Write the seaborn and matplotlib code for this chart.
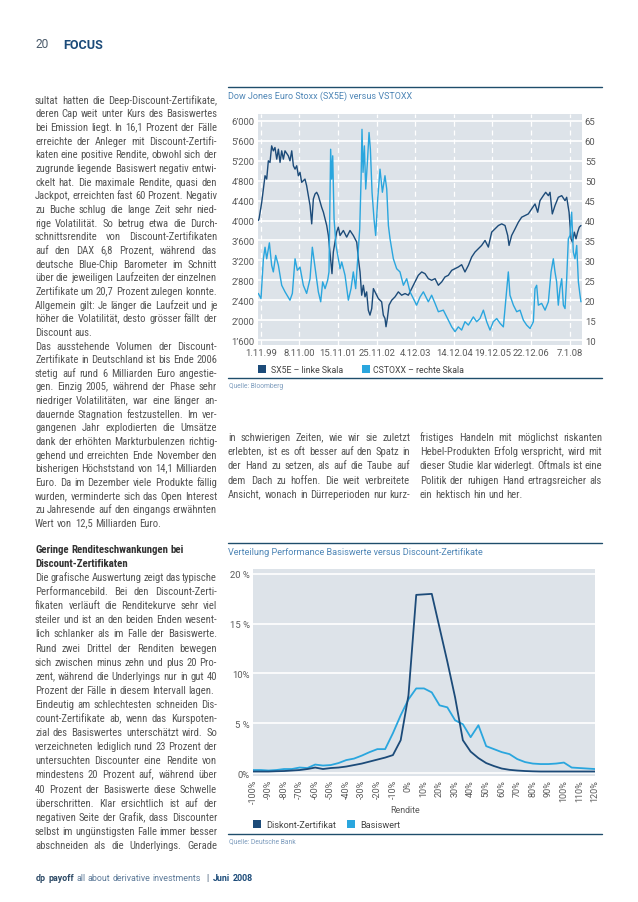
import matplotlib
matplotlib.use("Agg")
import math
import numpy as np
import pandas as pd
import matplotlib.pyplot as plt
import seaborn as sns
from matplotlib import font_manager as fm
from matplotlib.font_manager import FontProperties
from matplotlib.patches import Rectangle
from matplotlib.lines import Line2D

try:
    from matplotlib.backends.backend_agg import get_hinting_flag
except Exception:
    get_hinting_flag = None

# ---------------- data: chart 1 (SX5E vs VSTOXX) ----------------
sx5e_dates = [
    "1999-10-09", "1999-10-16", "1999-11-11", "1999-11-27", "1999-12-13", "1999-12-29",
    "2000-01-14", "2000-01-30", "2000-02-15", "2000-03-02", "2000-03-18", "2000-04-04",
    "2000-04-20", "2000-05-06", "2000-05-22", "2000-06-07", "2000-06-23", "2000-07-25",
    "2000-08-10", "2000-08-27", "2000-09-12", "2000-09-28", "2000-10-14", "2000-10-30",
    "2000-11-15", "2000-12-01", "2001-01-02", "2001-01-18", "2001-02-04", "2001-02-20",
    "2001-03-08", "2001-03-24", "2001-04-09", "2001-04-25", "2001-05-11", "2001-06-12",
    "2001-06-29", "2001-07-15", "2001-07-31", "2001-08-16", "2001-09-20", "2001-10-03",
    "2001-11-04", "2001-11-20", "2001-12-07", "2002-01-08", "2002-02-09", "2002-03-13",
    "2002-04-14", "2002-05-17", "2002-06-02", "2002-06-18", "2002-07-04", "2002-07-20",
    "2002-08-05", "2002-08-21", "2002-09-06", "2002-09-22", "2002-10-09", "2002-10-25",
    "2002-11-10", "2002-12-12", "2003-01-13", "2003-01-29", "2003-02-14", "2003-02-24",
    "2003-03-09", "2003-03-25", "2003-04-20", "2003-05-22", "2003-06-23", "2003-07-25",
    "2003-08-27", "2003-09-28", "2003-10-30", "2003-12-01", "2004-01-02", "2004-02-04",
    "2004-03-07", "2004-04-08", "2004-05-10", "2004-06-12", "2004-07-14", "2004-08-15",
    "2004-09-16", "2004-10-18", "2004-11-20", "2004-12-22", "2005-01-23", "2005-02-24",
    "2005-03-28", "2005-04-30", "2005-06-01", "2005-07-03", "2005-08-04", "2005-09-05",
    "2005-10-08", "2005-11-09", "2005-12-11", "2006-01-12", "2006-02-14", "2006-03-18",
    "2006-04-19", "2006-05-15", "2006-05-28", "2006-06-22", "2006-07-25", "2006-08-26",
    "2006-09-27", "2006-10-29", "2006-11-30", "2007-01-02", "2007-02-03", "2007-03-01",
    "2007-03-23", "2007-04-24", "2007-05-17", "2007-06-12", "2007-06-28", "2007-07-20",
    "2007-08-15", "2007-09-16", "2007-10-19", "2007-11-20", "2007-12-06", "2007-12-29",
    "2008-01-17", "2008-01-30", "2008-02-18", "2008-03-05", "2008-03-21", "2008-04-06",
    "2008-04-22"]
sx5e_values = [
    4000, 4033, 4367, 4633, 4900, 4833, 5200, 5167, 5500, 5400, 5467, 5233,
    5433, 5167, 5400, 5233, 5400, 5300, 5200, 5400, 5100, 5033, 5100, 4900,
    4967, 4767, 4833, 4700, 4500, 4300, 3933, 4433, 4533, 4567, 4500, 4267,
    4167, 4033, 3900, 3700, 2933, 3367, 3767, 3867, 3700, 3800, 3667, 3800,
    3700, 3567, 3233, 2967, 2500, 2700, 2467, 2567, 2200, 2100, 2233, 2633,
    2567, 2433, 2367, 2100, 2033, 1867, 2033, 2300, 2400, 2467, 2567, 2500,
    2533, 2500, 2633, 2767, 2900, 2967, 2933, 2833, 2800, 2833, 2700, 2767,
    2867, 2900, 3000, 3033, 3067, 3113, 2967, 3100, 3267, 3367, 3433, 3500,
    3600, 3467, 3767, 3833, 3900, 3933, 3900, 3700, 3500, 3700, 3833, 3967,
    4067, 4100, 4133, 4233, 4333, 4167, 4400, 4500, 4567, 4500, 4567, 4133,
    4300, 4467, 4500, 4400, 4467, 4167, 3633, 3567, 3767, 3633, 3767, 3867,
    3900]

vstoxx_dates = [
    "1999-10-09", "1999-11-04", "1999-11-27", "1999-12-13", "1999-12-29", "2000-01-24",
    "2000-02-15", "2000-03-02", "2000-03-25", "2000-04-20", "2000-05-22", "2000-06-23",
    "2000-08-10", "2000-09-02", "2000-09-28", "2000-10-20", "2000-11-15", "2000-12-17",
    "2001-01-18", "2001-02-20", "2001-03-14", "2001-04-09", "2001-05-11", "2001-06-03",
    "2001-06-22", "2001-07-15", "2001-08-09", "2001-08-22", "2001-09-07", "2001-09-17",
    "2001-09-27", "2001-10-10", "2001-10-29", "2001-11-20", "2001-12-07", "2001-12-23",
    "2002-01-24", "2002-02-25", "2002-03-23", "2002-04-14", "2002-05-07", "2002-05-26",
    "2002-06-15", "2002-06-28", "2002-07-07", "2002-07-17", "2002-07-30", "2002-08-12",
    "2002-08-28", "2002-09-13", "2002-09-26", "2002-10-12", "2002-10-31", "2002-11-16",
    "2002-12-06", "2002-12-28", "2003-01-20", "2003-02-14", "2003-03-03", "2003-03-19",
    "2003-04-04", "2003-05-06", "2003-06-07", "2003-07-09", "2003-08-11", "2003-09-12",
    "2003-10-14", "2003-11-15", "2003-12-17", "2004-01-19", "2004-02-20", "2004-04-08",
    "2004-05-10", "2004-06-12", "2004-07-14", "2004-08-31", "2004-10-18", "2004-11-20",
    "2004-12-22", "2005-01-23", "2005-02-24", "2005-03-28", "2005-04-30", "2005-06-17",
    "2005-07-19", "2005-08-20", "2005-09-22", "2005-10-24", "2005-11-25", "2005-12-27",
    "2006-01-29", "2006-03-02", "2006-04-03", "2006-05-05", "2006-05-21", "2006-06-06",
    "2006-07-09", "2006-08-10", "2006-09-11", "2006-10-13", "2006-11-14", "2006-12-17",
    "2007-01-18", "2007-02-03", "2007-02-19", "2007-03-07", "2007-04-08", "2007-05-11",
    "2007-06-12", "2007-07-08", "2007-07-30", "2007-08-15", "2007-08-31", "2007-09-16",
    "2007-10-02", "2007-10-19", "2007-11-04", "2007-11-20", "2007-12-06", "2007-12-22",
    "2008-01-07", "2008-01-23", "2008-02-08", "2008-02-24", "2008-03-12", "2008-03-28",
    "2008-04-13", "2008-04-22"]
vstoxx_values = [
    21.7, 20.4, 30.4, 33.3, 30.4, 34.4, 28.75, 27.1, 31.25, 28.75, 23.75, 22.1,
    20.0, 21.7, 30.4, 27.5, 28.3, 23.75, 21.7, 25.4, 33.3, 28.3, 22.1, 19.6,
    24.6, 22.9, 25.0, 27.1, 57.9, 50.4, 56.25, 40.4, 33.75, 30.4, 27.9, 29.6,
    26.25, 20.0, 22.9, 27.1, 22.9, 30.4, 37.9, 50.4, 62.9, 52.1, 58.75, 47.9,
    54.6, 62.1, 57.9, 47.1, 40.4, 36.25, 45.4, 52.9, 47.1, 51.25, 47.9, 38.75,
    35.4, 30.4, 27.9, 27.1, 23.75, 25.4, 22.1, 20.4, 18.75, 20.8, 22.1, 19.6,
    21.25, 19.2, 17.1, 17.5, 15.0, 13.3, 12.1, 13.3, 12.5, 14.6, 13.75, 15.8,
    14.6, 15.4, 17.5, 14.6, 12.5, 14.6, 15.4, 14.2, 13.3, 22.5, 27.1, 21.25,
    18.75, 17.1, 17.5, 15.0, 13.75, 12.9, 14.6, 22.9, 23.75, 18.75, 19.2, 17.5,
    19.6, 27.1, 30.4, 27.1, 24.6, 18.75, 22.9, 25.4, 18.75, 17.9, 25.4, 35.4,
    36.25, 42.1, 32.1, 30.4, 33.75, 24.6, 21.25, 19.6]

date_ticks = ["1999-11-01", "2000-11-08", "2001-11-15", "2002-11-25", "2003-12-04",
              "2004-12-14", "2005-12-19", "2006-12-22", "2008-01-07"]
date_tick_labels = ["1.11.99", "8.11.00", "15.11.01", "25.11.02", "4.12.03",
                    "14.12.04", "19.12.05", "22.12.06", "7.1.08"]
left_ticks = [1600, 2000, 2400, 2800, 3200, 3600, 4000, 4400, 4800, 5200, 5600, 6000]
left_tick_labels = ["1’600", "2’000", "2’400", "2’800", "3’200", "3’600",
                    "4’000", "4’400", "4’800", "5’200", "5’600", "6’000"]
right_ticks = [10, 15, 20, 25, 30, 35, 40, 45, 50, 55, 60, 65]
right_tick_labels = ["10", "15", "20", "25", "30", "35", "40", "45", "50", "55", "60", "65"]

# ---------------- data: chart 2 (distribution) ----------------
rendite = [-100, -95, -90, -85, -80, -75, -70, -65, -60, -55, -50, -45, -40, -35, -30, -25,
           -20, -15, -10, -5, 0, 5, 10, 15, 20, 25, 30, 35, 40, 45, 50, 55, 60, 65, 70, 75,
           80, 85, 90, 95, 100, 105, 110, 115, 120]
diskont = [0.15, 0.15, 0.15, 0.18, 0.2, 0.25, 0.3, 0.4, 0.55, 0.4, 0.5, 0.55, 0.65, 0.8, 0.95,
           1.15, 1.35, 1.55, 1.8, 3.3, 7.8, 17.9, 17.95, 18.0, 14.6, 11.2, 7.6, 3.3, 2.15, 1.5,
           1.0, 0.7, 0.45, 0.32, 0.25, 0.2, 0.17, 0.15, 0.15, 0.15, 0.15, 0.15, 0.15, 0.15, 0.15]
basiswert = [0.3, 0.3, 0.25, 0.3, 0.4, 0.4, 0.55, 0.5, 0.85, 0.75, 0.8, 1.0, 1.3, 1.45, 1.75,
             2.1, 2.4, 2.4, 4.0, 5.8, 7.4, 8.5, 8.5, 8.1, 6.8, 6.6, 5.3, 4.9, 3.6, 4.8,
             2.7, 2.4, 2.1, 1.9, 1.4, 1.1, 0.95, 0.9, 0.9, 0.95, 1.05, 0.55, 0.5, 0.45, 0.4]
rendite_ticks = [-100, -90, -80, -70, -60, -50, -40, -30, -20, -10, 0, 10, 20, 30, 40, 50,
                 60, 70, 80, 90, 100, 110, 120]
rendite_tick_labels = ["-100%", "-90%", "-80%", "-70%", "-60%", "-50%", "-40%", "-30%", "-20%",
                       "-10%", "0%", "10%", "20%", "30%", "40%", "50%", "60%", "70%", "80%",
                       "90%", "100%", "110%", "120%"]
pct_ticks = [0, 5, 10, 15, 20]
pct_tick_labels = ["0%", "5 %", "10%", "15 %", "20 %"]

# ---------------- text ----------------
block1 = [
    ("sultat hatten die Deep-Discount-Zertifikate,", True),
    ("deren Cap weit unter Kurs des Basiswertes", True),
    ("bei Emission liegt. In 16,1 Prozent der Fälle", True),
    ("erreichte der Anleger mit Discount-Zertifi-", True),
    ("katen eine positive Rendite, obwohl sich der", True),
    ("zugrunde liegende Basiswert negativ entwi-", True),
    ("ckelt hat. Die maximale Rendite, quasi den", True),
    ("Jackpot, erreichten fast 60 Prozent. Negativ", True),
    ("zu Buche schlug die lange Zeit sehr nied-", True),
    ("rige Volatilität. So betrug etwa die Durch-", True),
    ("schnittsrendite von Discount-Zertifikaten", True),
    ("auf den DAX 6,8 Prozent, während das", True),
    ("deutsche Blue-Chip Barometer im Schnitt", True),
    ("über die jeweiligen Laufzeiten der einzelnen", True),
    ("Zertifikate um 20,7 Prozent zulegen konnte.", True),
    ("Allgemein gilt: Je länger die Laufzeit und je", True),
    ("höher die Volatilität, desto grösser fällt der", True),
    ("Discount aus.", False),
    ("Das ausstehende Volumen der Discount-", True),
    ("Zertifikate in Deutschland ist bis Ende 2006", True),
    ("stetig auf rund 6 Milliarden Euro angestie-", True),
    ("gen. Einzig 2005, während der Phase sehr", True),
    ("niedriger Volatilitäten, war eine länger an-", True),
    ("dauernde Stagnation festzustellen. Im ver-", True),
    ("gangenen Jahr explodierten die Umsätze", True),
    ("dank der erhöhten Markturbulenzen richtig-", True),
    ("gehend und erreichten Ende November den", True),
    ("bisherigen Höchststand von 14,1 Milliarden", True),
    ("Euro. Da im Dezember viele Produkte fällig", True),
    ("wurden, verminderte sich das Open Interest", True),
    ("zu Jahresende auf den eingangs erwähnten", True),
    ("Wert von 12,5 Milliarden Euro.", False),
]
block2_head = ["Geringe Renditeschwankungen bei", "Discount-Zertifikaten"]
block2 = [
    ("Die grafische Auswertung zeigt das typische", True),
    ("Performancebild. Bei den Discount-Zerti-", True),
    ("fikaten verläuft die Renditekurve sehr viel", True),
    ("steiler und ist an den beiden Enden wesent-", True),
    ("lich schlanker als im Falle der Basiswerte.", True),
    ("Rund zwei Drittel der Renditen bewegen", True),
    ("sich zwischen minus zehn und plus 20 Pro-", True),
    ("zent, während die Underlyings nur in gut 40", True),
    ("Prozent der Fälle in diesem Intervall lagen.", False),
    ("Eindeutig am schlechtesten schneiden Dis-", True),
    ("count-Zertifikate ab, wenn das Kurspoten-", True),
    ("zial des Basiswertes unterschätzt wird. So", True),
    ("verzeichneten lediglich rund 23 Prozent der", True),
    ("untersuchten Discounter eine Rendite von", True),
    ("mindestens 20 Prozent auf, während über", True),
    ("40 Prozent der Basiswerte diese Schwelle", True),
    ("überschritten. Klar ersichtlich ist auf der", True),
    ("negativen Seite der Grafik, dass Discounter", True),
    ("selbst im ungünstigsten Falle immer besser", True),
    ("abschneiden als die Underlyings. Gerade", True),
]
colA = [
    ("in schwierigen Zeiten, wie wir sie zuletzt", True),
    ("erlebten, ist es oft besser auf den Spatz in", True),
    ("der Hand zu setzen, als auf die Taube auf", True),
    ("dem Dach zu hoffen. Die weit verbreitete", True),
    ("Ansicht, wonach in Dürreperioden nur kurz-", True),
]
colB = [
    ("fristiges Handeln mit möglichst riskanten", True),
    ("Hebel-Produkten Erfolg verspricht, wird mit", True),
    ("dieser Studie klar widerlegt. Oftmals ist eine", True),
    ("Politik der ruhigen Hand ertragsreicher als", True),
    ("ein hektisch hin und her.", False),
]

# ---------------- style ----------------
sns.set_theme(style="white")


def has_font(name):
    try:
        fm.findfont(fm.FontProperties(family=name), fallback_to_default=False)
        return True
    except Exception:
        return False


def pick_body_font():
    for p in ["Liberation Sans Narrow", "Roboto Condensed", "Open Sans Condensed",
              "Noto Sans Condensed", "DejaVu Sans Condensed", "Arial Narrow"]:
        if has_font(p):
            return p, "normal"
    for f in fm.fontManager.ttflist:
        st = str(f.stretch)
        if f.name in ("Noto Sans", "Open Sans", "Roboto", "DejaVu Sans", "Inter") and \
                st in ("condensed", "semi-condensed", "75", "87.5") and f.style == "normal":
            return f.name, st
    return "Liberation Sans", "normal"


BFAM, BSTRETCH = pick_body_font()
CFAM = "Roboto" if has_font("Roboto") else "Liberation Sans"
BODYF = dict(family=[BFAM, "DejaVu Sans"], stretch=BSTRETCH)
CHARTF = dict(family=[CFAM, "DejaVu Sans"], stretch="normal")
plt.rcParams["font.family"] = [CFAM, "DejaVu Sans"]

DARK = "#1c4b79"
LIGHT = "#2aa6de"
BG = "#dde3e9"
RULE = "#1f4d6b"
TXT = "#555555"
TITLE = "#4f86b6"
SRC = "#7d9cbd"
TICK = "#5a5a5a"

W, H = 638, 903
fig = plt.figure(figsize=(W / 100, H / 100), dpi=100)
fig.patch.set_facecolor("white")
renderer = fig.canvas.get_renderer()


def fx(x):
    return x / W


def fy(y):
    return 1 - y / H


def rect(l, t, r, b):
    return [l / W, 1 - b / H, (r - l) / W, (b - t) / H]


def fp_of(size, weight="normal", f=None):
    f = f or CHARTF
    return FontProperties(family=f["family"], stretch=f["stretch"], size=size, weight=weight)


def measure(s, size, weight="normal", f=None):
    t = fig.text(0, 0, s, fontproperties=fp_of(size, weight, f))
    w = t.get_window_extent(renderer).width
    t.remove()
    return w


def size_for(s, target, weight="normal", f=None):
    return 10.0 * target / measure(s, 10, weight, f)


def vmetrics(s, fp):
    try:
        font = renderer._prepare_font(fp)
        font.set_text(s, 0, flags=get_hinting_flag())
        w, h = font.get_width_height()
        d = font.get_descent() / 64.0
        return h / 64.0 - d, d
    except Exception:
        return None


def put_word(x, B, s, fp, color):
    """Place text so that its rendered baseline lands on canvas row B."""
    m = vmetrics(s, fp)
    yb = float(B)
    if m is not None:
        ymax, d = m
        yb = B + math.floor(ymax + d) - math.floor(ymax) - d
    return fig.text(x / W, 1 - yb / H, s, fontproperties=fp, color=color, ha="left",
                    va="baseline")


def put(x, y, s, size, color=TXT, weight="normal", ha="left", f=None):
    fp = fp_of(size, weight, f)
    B = int(round(y + 0.36 * size * 100 / 72))
    if ha == "center":
        x = x - measure(s, size, weight, f) / 2
    return put_word(x, B, s, fp, color)


def put_words(x0, y, text, size, color=TXT, weight="normal", f=None, width=None):
    fp = fp_of(size, weight, f)
    B = int(round(y + 0.36 * size * 100 / 72))
    words = text.split(" ")
    widths = [measure(w, size, weight, f) for w in words]
    space = measure("a a", size, weight, f) - measure("aa", size, weight, f)
    if width is not None and len(words) > 1:
        gap = (width - sum(widths)) / (len(words) - 1)
        gap = max(gap, space * 0.6)
    else:
        gap = space
    x = x0
    for w, wd in zip(words, widths):
        put_word(x, B, w, fp, color)
        x += wd + gap
    return x - gap


def hrule(x0, x1, y, lw=1.0):
    fig.add_artist(Line2D([fx(x0), fx(x1)], [fy(y), fy(y)], transform=fig.transFigure,
                          color=RULE, lw=lw))


def square(x, y, s, color):
    fig.add_artist(Rectangle((fx(x), fy(y + s)), s / W, s / H, transform=fig.transFigure,
                             facecolor=color, edgecolor="none"))


# ---------------- body text ----------------
COLW = 182.0
just_lines = [l for l, j in block1 + block2 + colA + colB if j]
BODY = float(np.median([size_for(l, COLW * 0.965, f=BODYF) for l in just_lines]))


def draw_lines(lines, x0, y0, step, size=BODY, color=TXT):
    for i, (line, just) in enumerate(lines):
        put_words(x0, y0 + i * step, line, size, color=color, f=BODYF,
                  width=COLW if just else None)


# ---------------- header / footer ----------------
hs = size_for("FOCUS", 40, "bold")
put(36, 44, "20", hs * 0.95, color="#4a5a6a")
put(63, 44, "FOCUS", hs, color=DARK, weight="bold")

fsz = 10 * 214 / measure("dp payoff all about derivative investments  |  Juni 2008", 10)
x = put_words(36, 878, "dp payoff", fsz, color="#2d4a66", weight="bold")
x = put_words(x + measure("a a", fsz) - measure("aa", fsz), 878,
              "all about derivative investments", fsz, color="#5d7a99")
x = put_words(x + 5, 878, "|", fsz, color="#2d4a66")
put_words(x + 5, 878, "Juni 2008", fsz, color=DARK, weight="bold")

# ---------------- left column / middle text ----------------
draw_lines(block1, 35, 100, 13.65)
hsz = BODY * 1.02
put_words(35, 549, block2_head[0], hsz, color="#333333", weight="bold", f=BODYF)
put_words(35, 563.1, block2_head[1], hsz, color="#333333", weight="bold", f=BODYF)
draw_lines(block2, 35, 577.2, 14.1)
draw_lines(colA, 228, 437, 14.3)
draw_lines(colB, 420, 437, 14.3)

# ---------------- chart 1 ----------------
hrule(228, 602, 87.5)
hrule(228, 602, 379.3)
t1 = "Dow Jones Euro Stoxx (SX5E) versus VSTOXX"
put(228, 95.5, t1, size_for(t1, 183), color=TITLE)

df_sx = pd.DataFrame({"Datum": pd.to_datetime(sx5e_dates), "SX5E": sx5e_values})
df_vs = pd.DataFrame({"Datum": pd.to_datetime(vstoxx_dates), "VSTOXX": vstoxx_values})

ax1 = fig.add_axes(rect(258, 115, 582, 346))
ax1.set_facecolor(BG)
sns.lineplot(data=df_sx, x="Datum", y="SX5E", ax=ax1, color=DARK, lw=1.0, zorder=3)
ax1.set_xlim(pd.Timestamp("1999-10-06"), pd.Timestamp("2008-05-02"))
ax1.set_ylim(1500, 6140)
ax1.set_yticks(left_ticks)
tsz = size_for("6’000", 23)
ax1.set_yticklabels(left_tick_labels, fontsize=tsz, color=TICK)
ax1.set_xticks(pd.to_datetime(date_ticks))
ax1.set_xticklabels(date_tick_labels, fontsize=tsz, color=TICK)
ax1.tick_params(axis="both", length=0)
ax1.tick_params(axis="y", pad=2.5)
ax1.tick_params(axis="x", pad=2.5)
ax1.set_xlabel("")
ax1.set_ylabel("")
ax1.grid(axis="y", color="white", lw=1.2, ls="-")
ax1.grid(axis="x", color="white", lw=0.9, ls=(0, (4, 3)))
ax1.set_axisbelow(True)
for sp in ax1.spines.values():
    sp.set_visible(False)

ax1r = ax1.twinx()
sns.lineplot(data=df_vs, x="Datum", y="VSTOXX", ax=ax1r, color=LIGHT, lw=1.0)
ax1r.set_ylim(8.75, 66.75)
ax1r.set_yticks(right_ticks)
ax1r.set_yticklabels(right_tick_labels, fontsize=tsz, color=TICK)
ax1r.tick_params(axis="y", length=0, pad=2)
ax1r.set_ylabel("")
ax1r.grid(False)
for sp in ax1r.spines.values():
    sp.set_visible(False)

lsz = size_for("SX5E – linke Skala", 72)
square(258, 366, 8, DARK)
put(271, 370, "SX5E – linke Skala", lsz, color="#444444")
square(362, 366, 8, LIGHT)
put(373, 370, "CSTOXX – rechte Skala", lsz, color="#444444")
put(229, 386, "Quelle: Bloomberg", size_for("Quelle: Bloomberg", 54), color=SRC)

# ---------------- chart 2 ----------------
hrule(228, 602, 544)
hrule(228, 602, 835)
t2 = "Verteilung Performance Basiswerte versus Discount-Zertifikate"
put(228, 551.5, t2, size_for(t2, 255), color=TITLE)

df2 = pd.DataFrame({"Rendite": rendite, "Diskont-Zertifikat": diskont, "Basiswert": basiswert})
ax2 = fig.add_axes(rect(253, 570, 595, 777))
ax2.set_facecolor(BG)
sns.lineplot(data=df2, x="Rendite", y="Basiswert", ax=ax2, color=LIGHT, lw=1.3)
sns.lineplot(data=df2, x="Rendite", y="Diskont-Zertifikat", ax=ax2, color=DARK, lw=1.3)
ax2.set_xlim(-100, 120)
ax2.set_ylim(-0.3, 20.5)
ax2.set_yticks(pct_ticks)
ax2.set_yticklabels(pct_tick_labels, fontsize=tsz, color=TICK)
ax2.set_xticks(rendite_ticks)
ax2.set_xticklabels(rendite_tick_labels, fontsize=tsz * 0.95, color=TICK, rotation=90)
ax2.tick_params(axis="both", length=0)
ax2.tick_params(axis="y", pad=2.5)
ax2.tick_params(axis="x", pad=2)
ax2.set_xlabel("")
ax2.set_ylabel("")
ax2.grid(axis="y", color="white", lw=1.2)
ax2.grid(axis="x", visible=False)
ax2.set_axisbelow(True)
for sp in ax2.spines.values():
    sp.set_visible(False)

put(405, 810, "Rendite", size_for("Rendite", 30), color=TICK, ha="center")
lsz2 = size_for("Diskont-Zertifikat", 70)
square(253, 821, 8, DARK)
put(266, 825, "Diskont-Zertifikat", lsz2, color="#444444")
square(347, 821, 8, LIGHT)
put(360, 825, "Basiswert", lsz2, color="#444444")
put(229, 842, "Quelle: Deutsche Bank", size_for("Quelle: Deutsche Bank", 67), color=SRC)

fig.savefig("out.png", dpi=100, facecolor="white")
